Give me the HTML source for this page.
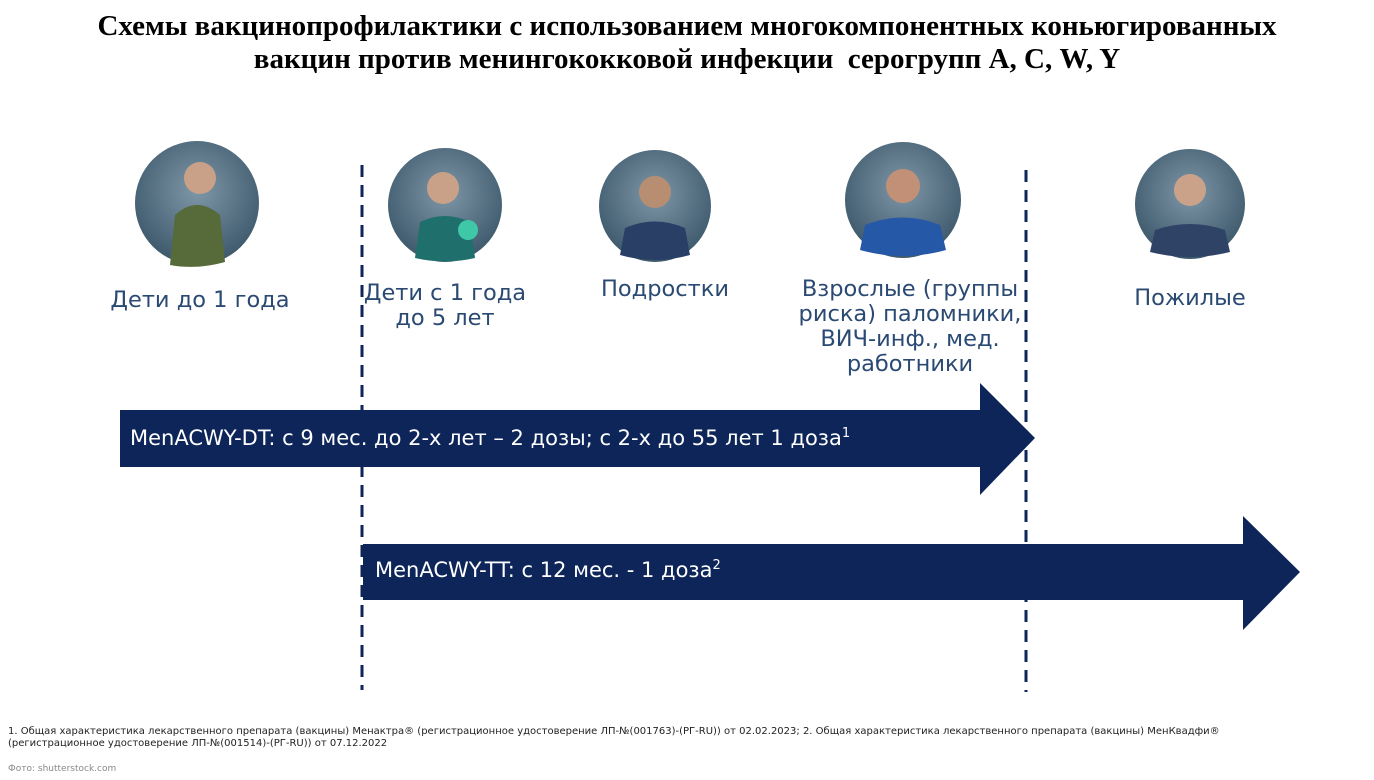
<!DOCTYPE html>
<html><head><meta charset="utf-8"><style>
body{margin:0;width:1374px;height:780px;background:#fff;position:relative;overflow:hidden;font-family:"DejaVu Sans","Liberation Sans",sans-serif}
.t{position:absolute;left:0;width:1374px;text-align:center;top:10px;font-family:"Liberation Serif",serif;font-weight:bold;font-size:29px;line-height:33px;color:#000}
.l{position:absolute;color:#2b4a73;font-size:22.5px;line-height:25px;text-align:center}
.a{position:absolute;color:#fff;font-size:21px;white-space:nowrap}
.f{position:absolute;left:8px;font-size:10px;color:#222;line-height:12px}
</style></head><body>
<div class="t">Схемы вакцинопрофилактики с использованием многокомпонентных коньюгированных<br>вакцин против менингококковой инфекции &nbsp;серогрупп А, С, W, Y</div>
<svg width="1374" height="780" style="position:absolute;left:0;top:0">
<defs>
<radialGradient id="g" cx="50%" cy="40%" r="60%"><stop offset="0" stop-color="#7e97a8"/><stop offset="1" stop-color="#3e596c"/></radialGradient>
</defs>
<circle cx="197" cy="203" r="62" fill="url(#g)"/>
<path d="M170 265 L175 215 Q197 195 220 215 L225 262 Q197 270 170 265Z" fill="#566a3a"/>
<circle cx="200" cy="178" r="16" fill="#c9a188"/>
<circle cx="445" cy="205" r="57" fill="url(#g)"/>
<path d="M415 258 L420 222 Q445 210 470 222 L475 258 Q445 265 415 258Z" fill="#1f6f6d"/>
<circle cx="443" cy="188" r="16" fill="#c9a188"/>
<circle cx="468" cy="230" r="10" fill="#3fc8a8"/>
<circle cx="655" cy="206" r="56" fill="url(#g)"/>
<path d="M620 255 L625 228 Q655 215 685 228 L690 255 Q655 265 620 255Z" fill="#2a3f66"/>
<circle cx="655" cy="192" r="16" fill="#b78e72"/>
<circle cx="903" cy="200" r="58" fill="url(#g)"/>
<path d="M860 250 L865 225 Q903 210 940 225 L946 250 Q903 262 860 250Z" fill="#2658a8"/>
<circle cx="903" cy="186" r="17" fill="#c19076"/>
<circle cx="1190" cy="204" r="55" fill="url(#g)"/>
<path d="M1150 252 L1155 230 Q1190 218 1225 230 L1230 252 Q1190 262 1150 252Z" fill="#2e4366"/>
<circle cx="1190" cy="190" r="16" fill="#caa28a"/>
<polygon points="120,410 980,410 980,383 1035,438 980,495 980,467 120,467" fill="#0d2559"/>
<polygon points="363,544 1243,544 1243,516 1300,572 1243,630 1243,600 363,600" fill="#0d2559"/>
<line x1="362" y1="165" x2="362" y2="690" stroke="#0d2559" stroke-width="3" stroke-dasharray="12 8"/>
<line x1="1026" y1="170" x2="1026" y2="692" stroke="#0d2559" stroke-width="3" stroke-dasharray="12 8"/>
</svg>
<div class="l" style="left:90px;width:220px;top:288px">Дети до 1 года</div>
<div class="l" style="left:355px;width:180px;top:281px">Дети с 1 года<br>до 5 лет</div>
<div class="l" style="left:565px;width:200px;top:277px">Подростки</div>
<div class="l" style="left:770px;width:280px;top:277px">Взрослые (группы<br>риска) паломники,<br>ВИЧ-инф., мед.<br>работники</div>
<div class="l" style="left:1090px;width:200px;top:286px">Пожилые</div>
<div class="a" style="left:130px;top:426px">MenACWY-DT: с 9 мес. до 2-х лет – 2 дозы; с 2-х до 55 лет 1 доза<sup style="font-size:13px">1</sup></div>
<div class="a" style="left:375px;top:558px">MenACWY-TT: с 12 мес. - 1 доза<sup style="font-size:13px">2</sup></div>
<div class="f" style="top:726px">1. Общая характеристика лекарственного препарата (вакцины) Менактра® (регистрационное удостоверение ЛП-№(001763)-(РГ-RU)) от 02.02.2023; 2. Общая характеристика лекарственного препарата (вакцины) МенКвадфи®<br>(регистрационное удостоверение ЛП-№(001514)-(РГ-RU)) от 07.12.2022</div>
<div class="f" style="top:763px;color:#888;font-size:9px">Фото: shutterstock.com</div>
</body></html>
